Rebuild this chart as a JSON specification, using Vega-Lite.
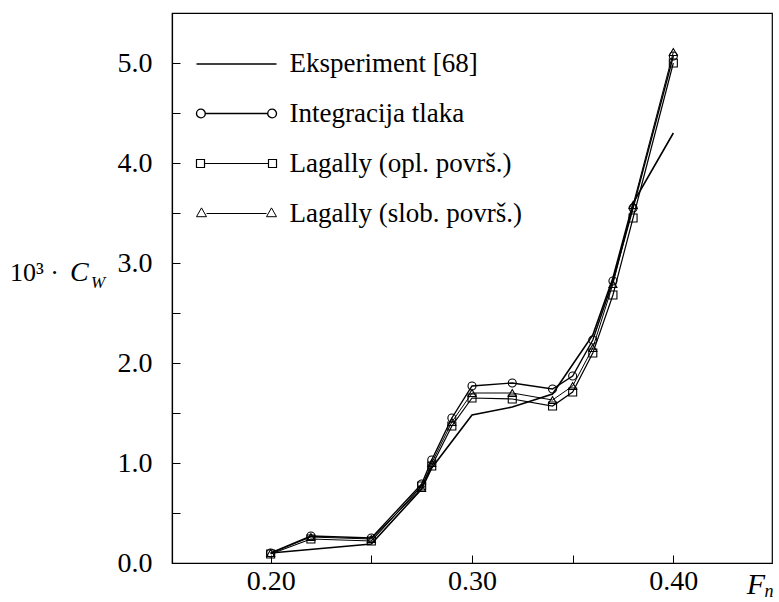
{
  "$schema": "https://vega.github.io/schema/vega-lite/v6.json",
  "width": 600,
  "height": 550,
  "autosize": {"type": "none"},
  "padding": {"left": 172, "top": 13, "right": 7, "bottom": 39},
  "background": "white",
  "config": {
    "view": {"stroke": "black", "strokeWidth": 1.2},
    "axis": {
      "grid": false,
      "domainColor": "black",
      "domainWidth": 1.2,
      "tickColor": "black",
      "tickWidth": 1,
      "tickSize": -8,
      "labelFont": "Liberation Serif",
      "labelFontSize": 28,
      "labelColor": "black",
      "title": null
    }
  },
  "data": {
    "values": [
      {"series": "Eksperiment [68]", "Fn": 0.20, "Cw": 0.10},
      {"series": "Eksperiment [68]", "Fn": 0.25, "Cw": 0.19},
      {"series": "Eksperiment [68]", "Fn": 0.275, "Cw": 0.74},
      {"series": "Eksperiment [68]", "Fn": 0.28, "Cw": 0.95},
      {"series": "Eksperiment [68]", "Fn": 0.30, "Cw": 1.48},
      {"series": "Eksperiment [68]", "Fn": 0.32, "Cw": 1.56},
      {"series": "Eksperiment [68]", "Fn": 0.34, "Cw": 1.69},
      {"series": "Eksperiment [68]", "Fn": 0.36, "Cw": 2.28},
      {"series": "Eksperiment [68]", "Fn": 0.37, "Cw": 2.85},
      {"series": "Eksperiment [68]", "Fn": 0.38, "Cw": 3.60},
      {"series": "Eksperiment [68]", "Fn": 0.40, "Cw": 4.30},

      {"series": "Integracija tlaka", "Fn": 0.20, "Cw": 0.10},
      {"series": "Integracija tlaka", "Fn": 0.22, "Cw": 0.27},
      {"series": "Integracija tlaka", "Fn": 0.25, "Cw": 0.25},
      {"series": "Integracija tlaka", "Fn": 0.275, "Cw": 0.79},
      {"series": "Integracija tlaka", "Fn": 0.28, "Cw": 1.03},
      {"series": "Integracija tlaka", "Fn": 0.29, "Cw": 1.45},
      {"series": "Integracija tlaka", "Fn": 0.30, "Cw": 1.77},
      {"series": "Integracija tlaka", "Fn": 0.32, "Cw": 1.80},
      {"series": "Integracija tlaka", "Fn": 0.34, "Cw": 1.74},
      {"series": "Integracija tlaka", "Fn": 0.35, "Cw": 1.87},
      {"series": "Integracija tlaka", "Fn": 0.36, "Cw": 2.23},
      {"series": "Integracija tlaka", "Fn": 0.37, "Cw": 2.82},
      {"series": "Integracija tlaka", "Fn": 0.38, "Cw": 3.55},
      {"series": "Integracija tlaka", "Fn": 0.40, "Cw": 5.07},

      {"series": "Lagally (opl. površ.)", "Fn": 0.20, "Cw": 0.09},
      {"series": "Lagally (opl. površ.)", "Fn": 0.22, "Cw": 0.24},
      {"series": "Lagally (opl. površ.)", "Fn": 0.25, "Cw": 0.22},
      {"series": "Lagally (opl. površ.)", "Fn": 0.275, "Cw": 0.77},
      {"series": "Lagally (opl. površ.)", "Fn": 0.28, "Cw": 0.97},
      {"series": "Lagally (opl. površ.)", "Fn": 0.29, "Cw": 1.37},
      {"series": "Lagally (opl. površ.)", "Fn": 0.30, "Cw": 1.65},
      {"series": "Lagally (opl. površ.)", "Fn": 0.32, "Cw": 1.64},
      {"series": "Lagally (opl. površ.)", "Fn": 0.34, "Cw": 1.57},
      {"series": "Lagally (opl. površ.)", "Fn": 0.35, "Cw": 1.71},
      {"series": "Lagally (opl. površ.)", "Fn": 0.36, "Cw": 2.10},
      {"series": "Lagally (opl. površ.)", "Fn": 0.37, "Cw": 2.68},
      {"series": "Lagally (opl. površ.)", "Fn": 0.38, "Cw": 3.45},
      {"series": "Lagally (opl. površ.)", "Fn": 0.40, "Cw": 5.00},

      {"series": "Lagally (slob. površ.)", "Fn": 0.20, "Cw": 0.10},
      {"series": "Lagally (slob. površ.)", "Fn": 0.22, "Cw": 0.26},
      {"series": "Lagally (slob. površ.)", "Fn": 0.25, "Cw": 0.24},
      {"series": "Lagally (slob. površ.)", "Fn": 0.275, "Cw": 0.75},
      {"series": "Lagally (slob. površ.)", "Fn": 0.28, "Cw": 1.00},
      {"series": "Lagally (slob. površ.)", "Fn": 0.29, "Cw": 1.41},
      {"series": "Lagally (slob. površ.)", "Fn": 0.30, "Cw": 1.70},
      {"series": "Lagally (slob. površ.)", "Fn": 0.32, "Cw": 1.70},
      {"series": "Lagally (slob. površ.)", "Fn": 0.34, "Cw": 1.63},
      {"series": "Lagally (slob. površ.)", "Fn": 0.35, "Cw": 1.77},
      {"series": "Lagally (slob. površ.)", "Fn": 0.36, "Cw": 2.15},
      {"series": "Lagally (slob. površ.)", "Fn": 0.37, "Cw": 2.79},
      {"series": "Lagally (slob. površ.)", "Fn": 0.38, "Cw": 3.58},
      {"series": "Lagally (slob. površ.)", "Fn": 0.40, "Cw": 5.11}
    ]
  },
  "layer": [
    {
      "mark": {"type": "line", "clip": true},
      "encoding": {
        "x": {
          "field": "Fn", "type": "quantitative",
          "scale": {"domain": [0.151, 0.449], "nice": false, "zero": false},
          "axis": {
            "values": [0.20, 0.25, 0.30, 0.35, 0.40],
            "labelExpr": "(abs(datum.value - 0.25) < 0.001 || abs(datum.value - 0.35) < 0.001) ? '' : format(datum.value, '.2f')",
            "labelPadding": 12
          }
        },
        "y": {
          "field": "Cw", "type": "quantitative",
          "scale": {"domain": [0, 5.5], "nice": false, "zero": false},
          "axis": {
            "values": [0, 0.5, 1, 1.5, 2, 2.5, 3, 3.5, 4, 4.5, 5],
            "labelExpr": "datum.value % 1 === 0 ? format(datum.value, '.1f') : ''",
            "labelPadding": 28
          }
        },
        "stroke": {
          "field": "series", "type": "nominal",
          "scale": {
            "domain": ["Eksperiment [68]", "Integracija tlaka", "Lagally (opl. površ.)", "Lagally (slob. površ.)"],
            "range": ["black", "black", "black", "black"]
          },
          "legend": {
            "orient": "none",
            "legendX": 23,
            "legendY": 14,
            "title": null,
            "padding": 0,
            "symbolSize": 5112,
            "symbolStrokeWidth": 1.2,
            "symbolStrokeColor": "black",
            "symbolOffset": 4.5,
            "labelFont": "Liberation Serif",
            "labelFontSize": 27,
            "labelColor": "black",
            "labelOffset": 16,
            "labelLimit": 0,
            "rowPadding": 0,
            "encode": {
              "symbols": {
                "update": {
                  "shape": {"signal": "datum.value === 'Eksperiment [68]' ? 'M-1.119,0H1.119' : datum.value === 'Integracija tlaka' ? 'M-0.873,0H0.873M-1.119,0A0.123,0.123 0 1,0 -0.873,0A0.123,0.123 0 1,0 -1.119,0M0.873,0A0.123,0.123 0 1,0 1.119,0A0.123,0.123 0 1,0 0.873,0' : datum.value === 'Lagally (opl. površ.)' ? 'M-0.895,0H0.895M-1.119,-0.112H-0.895V0.112H-1.119ZM0.895,-0.112H1.119V0.112H0.895Z' : 'M-0.839,0H0.839M-0.979,-0.157L-0.839,0.09H-1.119ZM0.979,-0.157L1.119,0.09H0.839Z'"},
                  "fill": {"value": "white"},
                  "stroke": {"value": "black"},
                  "strokeWidth": {"value": 1.2}
                }
              }
            }
          }
        },
        "strokeWidth": {
          "field": "series", "type": "nominal",
          "scale": {
            "domain": ["Eksperiment [68]", "Integracija tlaka", "Lagally (opl. površ.)", "Lagally (slob. površ.)"],
            "range": [1.6, 1, 1, 1]
          },
          "legend": null
        }
      }
    },
    {
      "transform": [{"filter": "datum.series !== 'Eksperiment [68]'"}],
      "mark": {"type": "point", "filled": false, "strokeWidth": 1.1, "color": "black", "opacity": 1},
      "encoding": {
        "x": {"field": "Fn", "type": "quantitative"},
        "y": {"field": "Cw", "type": "quantitative"},
        "shape": {
          "field": "series", "type": "nominal",
          "scale": {
            "domain": ["Integracija tlaka", "Lagally (opl. površ.)", "Lagally (slob. površ.)"],
            "range": ["circle", "square", "triangle-up"]
          },
          "legend": null
        },
        "size": {"value": 64}
      }
    },
    {
      "data": {"values": [{}]},
      "mark": {"type": "text", "text": "10³ ·", "font": "Liberation Serif", "fontSize": 26, "align": "left", "baseline": "alphabetic", "color": "black"},
      "encoding": {"x": {"datum": 0.0705}, "y": {"datum": 2.82}}
    },
    {
      "data": {"values": [{}]},
      "mark": {"type": "text", "text": "C", "font": "Liberation Serif", "fontSize": 28, "fontStyle": "italic", "align": "left", "baseline": "alphabetic", "color": "black"},
      "encoding": {"x": {"datum": 0.1003}, "y": {"datum": 2.82}}
    },
    {
      "data": {"values": [{}]},
      "mark": {"type": "text", "text": "W", "font": "Liberation Serif", "fontSize": 17, "fontStyle": "italic", "align": "left", "baseline": "alphabetic", "color": "black"},
      "encoding": {"x": {"datum": 0.1108}, "y": {"datum": 2.75}}
    },
    {
      "data": {"values": [{}]},
      "mark": {"type": "text", "text": "F", "font": "Liberation Serif", "fontSize": 30, "fontStyle": "italic", "align": "left", "baseline": "alphabetic", "color": "black"},
      "encoding": {"x": {"datum": 0.4365}, "y": {"datum": -0.31}}
    },
    {
      "data": {"values": [{}]},
      "mark": {"type": "text", "text": "n", "font": "Liberation Serif", "fontSize": 18, "fontStyle": "italic", "align": "left", "baseline": "alphabetic", "color": "black"},
      "encoding": {"x": {"datum": 0.4453}, "y": {"datum": -0.34}}
    }
  ]
}
